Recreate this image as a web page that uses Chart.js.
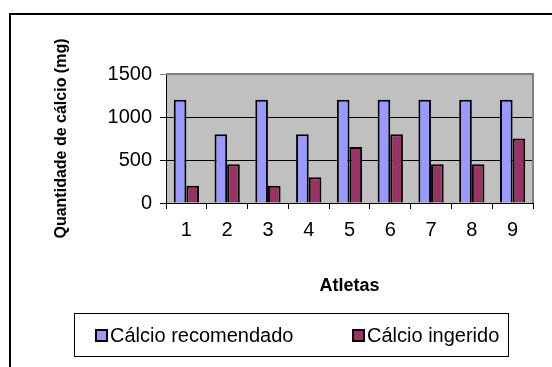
<!DOCTYPE html>
<html>
<head>
<meta charset="utf-8">
<script src="https://cdn.jsdelivr.net/npm/chart.js@4.4.1/dist/chart.umd.min.js"></script>
<style>
  html, body { margin: 0; padding: 0; background: #ffffff; }
  #wrap { width: 552px; height: 367px; position: relative; }
</style>
</head>
<body>
<div id="wrap"><canvas id="chart" width="552" height="367"></canvas></div>
<script>
// Athletes (1..9) and their calcium amounts in mg
const athletes = ['1', '2', '3', '4', '5', '6', '7', '8', '9'];
const recommended = [1200, 800, 1200, 800, 1200, 1200, 1200, 1200, 1200];
const ingested = [200, 450, 200, 300, 650, 800, 450, 450, 750];
const seriesNames = ['Cálcio recomendado', 'Cálcio ingerido'];
const yTicks = [0, 500, 1000, 1500];

const FONT = '"Liberation Sans", Arial, Helvetica, sans-serif';
const BLUE = '#9999FF';
const PLUM = '#993366';

// Silver plot background, grey frame on the top/right, outer frame and boxed legend
const decor = {
  id: 'decor',
  beforeDraw(chart) {
    const { ctx, chartArea: a } = chart;
    ctx.save();
    ctx.fillStyle = '#C0C0C0';
    ctx.fillRect(a.left, a.top, a.right - a.left, a.bottom - a.top);
    ctx.restore();
  },
  beforeDatasetsDraw(chart) {
    const { ctx, chartArea: a } = chart;
    ctx.save();
    ctx.strokeStyle = '#808080';
    ctx.lineWidth = 2;
    ctx.beginPath();
    ctx.moveTo(a.left, a.top);
    ctx.lineTo(a.right, a.top);
    ctx.lineTo(a.right, a.bottom);
    ctx.stroke();
    ctx.restore();
  },
  afterDraw(chart) {
    const { ctx } = chart;
    ctx.save();
    // outer frame
    ctx.strokeStyle = '#000000';
    ctx.lineWidth = 2;
    ctx.strokeRect(10, 14, 600, 400);
    // legend box
    ctx.lineWidth = 1;
    ctx.strokeRect(74.5, 313.5, 434, 43);
    ctx.font = '20px ' + FONT;
    ctx.textBaseline = 'middle';
    ctx.textAlign = 'left';
    const starts = [95, 352];
    chart.data.datasets.forEach((ds, i) => {
      const x = starts[i];
      ctx.fillStyle = ds.backgroundColor;
      ctx.fillRect(x, 329, 13, 13);
      ctx.strokeStyle = '#000000';
      ctx.lineWidth = 2;
      ctx.strokeRect(x + 1, 330, 11, 11);
      ctx.fillStyle = '#000000';
      ctx.fillText(ds.label, x + 15, 336);
    });
    ctx.restore();
  }
};

new Chart(document.getElementById('chart'), {
  type: 'bar',
  data: {
    labels: athletes,
    datasets: [
      { label: seriesNames[0], data: recommended, backgroundColor: BLUE,
        borderColor: '#000000', borderWidth: 2 },
      { label: seriesNames[1], data: ingested, backgroundColor: PLUM,
        borderColor: '#000000', borderWidth: 2 }
    ]
  },
  options: {
    responsive: false,
    animation: false,
    events: [],
    layout: { padding: { top: 74, right: 19, bottom: 67, left: 0 } },
    datasets: { bar: { categoryPercentage: 0.62, barPercentage: 1.0 } },
    plugins: { legend: { display: false }, tooltip: { enabled: false } },
    scales: {
      x: {
        grid: { display: true, drawOnChartArea: false, drawTicks: true,
                tickLength: 6, color: '#000000', offset: true },
        border: { display: true, color: '#000000', width: 1 },
        ticks: { color: '#000000', font: { family: FONT, size: 20 }, padding: 9,
                 maxRotation: 0 },
        title: { display: true, text: 'Atletas', color: '#000000',
                 font: { family: FONT, size: 18, weight: 'bold' },
                 padding: { top: 0, bottom: 3 } },
        afterFit(scale) { scale.height = 97; }
      },
      y: {
        min: 0,
        max: 1500,
        afterBuildTicks(scale) { scale.ticks = yTicks.map(v => ({ value: v })); },
        grid: {
          color: (c) => (c.tick && c.tick.value === 1500 ? '#808080' : '#000000'),
          lineWidth: 1, tickLength: 6, drawTicks: true
        },
        border: { display: true, color: '#000000', width: 1 },
        ticks: { color: '#000000', font: { family: FONT, size: 20 }, padding: 8,
                 callback: (v) => String(v) },
        title: { display: true, text: 'Quantidade de cálcio (mg)', color: '#000000',
                 font: { family: FONT, size: 16, weight: 'bold' },
                 padding: { top: 52, bottom: 0 } },
        afterFit(scale) { scale.width = 166; }
      }
    }
  },
  plugins: [decor]
});
</script>
</body>
</html>
